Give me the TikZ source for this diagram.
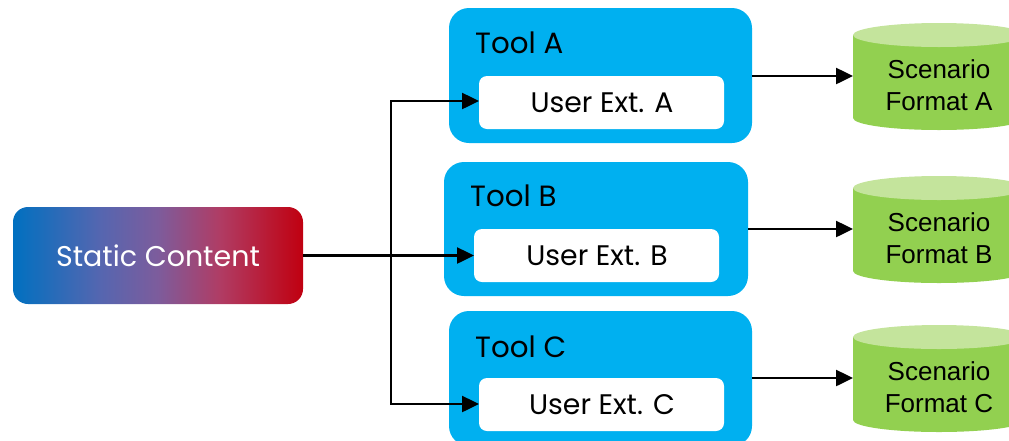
\documentclass[tikz,border=0pt]{standalone}
\usepackage{fontspec}
\setmainfont{Poppins}
\newfontfamily\arialf{Liberation Sans}
\usetikzlibrary{arrows.meta}
\definecolor{toolblue}{HTML}{00B0F0}
\definecolor{cylbody}{HTML}{92D050}
\definecolor{cyltop}{HTML}{C4E49C}
\definecolor{gblue}{HTML}{0070C0}
\definecolor{gred}{HTML}{C00010}
\definecolor{gq1}{HTML}{5566B0}
\definecolor{gq2}{HTML}{7D5C9C}
\definecolor{gq3}{HTML}{B03C64}
\pgfdeclarehorizontalshading{staticgrad}{100bp}{color(0bp)=(gblue); color(25bp)=(gblue); color(40bp)=(gq1); color(50bp)=(gq2); color(60.7bp)=(gq3); color(75bp)=(gred); color(100bp)=(gred)}
\tikzset{
  toolbox/.style={fill=toolblue, rounded corners=20pt, draw=none},
  extfont/.style={font=\fontsize{28.3}{32}\selectfont, text=black},
  tooltitle/.style={anchor=base west, font=\fontsize{29.3}{33}\selectfont, text=black, inner sep=0pt},
  conn/.style={line width=2.5pt, -{Triangle[length=17pt,width=16pt]}},
  cyltext/.style={font=\arialf\fontsize{26}{32}\selectfont, align=center, text=black, inner sep=0pt}
}
\newcommand{\mycyl}[2]{% #1 top y, #2 name
  \fill[cylbody] (853,#1+12) -- (853,#1+95) arc[start angle=180,end angle=0,x radius=86,y radius=12] -- (1025,#1+12) -- cycle;
  \fill[cyltop] (939,#1+12) ellipse[x radius=86,y radius=12];
  \coordinate (#2) at (853,#1+53);
}
\begin{document}
\begin{tikzpicture}[x=1pt,y=-1pt]
\useasboundingbox (0,0) rectangle (1009,440);
% static content
\shade[shading=staticgrad, rounded corners=15pt] (13,207) rectangle (303,304);
\node[font=\fontsize{28.5}{32}\selectfont, text=white] (static) at (158,255.5) {Static Content};
\coordinate (staticE) at (303,255.5);
% tools
\fill[toolbox] (449,8) rectangle (752,143);
\fill[toolbox] (444,162) rectangle (748,296);
\fill[toolbox] (449,311) rectangle (752,446);
\coordinate (toolA) at (752,76);
\coordinate (toolB) at (748,229);
\coordinate (toolC) at (752,378);
\node[tooltitle] (tA) at (475,53) {Tool A};
\node[tooltitle] (tB) at (470,206) {Tool B};
\node[tooltitle] (tC) at (475,357) {Tool C};
\fill[white, rounded corners=8pt] (479,76) rectangle (724,129);
\fill[white, rounded corners=8pt] (474,229) rectangle (719,282);
\fill[white, rounded corners=8pt] (479,378) rectangle (724,431);
\node[extfont] (extA) at (602,102.5) {User Ext. A};
\node[extfont] (extB) at (597,255.5) {User Ext. B};
\node[extfont] (extC) at (602,404.5) {User Ext. C};
\coordinate (extAW) at (479,101);
\coordinate (extBW) at (474,255.5);
\coordinate (extCW) at (479,404);
\coordinate (junc) at (391,255.5);
% cylinders
\mycyl{23}{cylA}
\mycyl{176}{cylB}
\mycyl{325}{cylC}
\node[cyltext] (sA) at (939,85) {Scenario\\Format A};
\node[cyltext] (sB) at (939,238) {Scenario\\Format B};
\node[cyltext] (sC) at (939,387) {Scenario\\Format C};
% connectors
\draw[conn] (staticE) -- (extBW);
\draw[conn] (junc) |- (extAW);
\draw[conn] (junc) |- (extCW);
\draw[conn] (toolA) -- (cylA |- toolA);
\draw[conn] (toolB) -- (cylB |- toolB);
\draw[conn] (toolC) -- (cylC |- toolC);
\end{tikzpicture}
\end{document}
